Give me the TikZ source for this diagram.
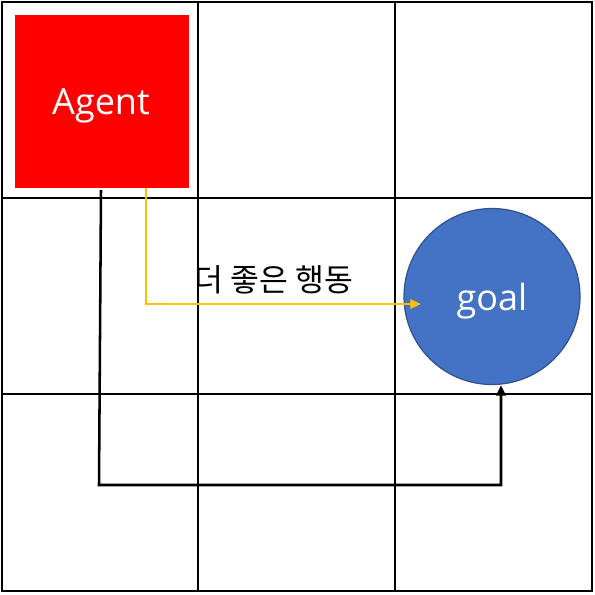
\documentclass[tikz,border=0pt]{standalone}
\usepackage{fontspec}
\setmainfont{Open Sans}
\newfontfamily\kofont{Noto Sans CJK KR}
\usetikzlibrary{arrows.meta,calc}
\definecolor{goalblue}{HTML}{4472C4}
\definecolor{goalline}{HTML}{2F528F}
\definecolor{ygold}{HTML}{FFC000}
\begin{document}
\begin{tikzpicture}[x=0.75pt,y=-0.75pt,
  gridline/.style={line width=1.1pt,draw=black},
  agentbox/.style={fill=red,draw=none,minimum width=174*0.75pt,minimum height=173*0.75pt,inner sep=0pt},
  goalnode/.style={circle,fill=goalblue,draw=goalline,line width=0.9pt,minimum size=176*0.75pt,inner sep=0pt},
  wlbl/.style={text=white,font=\fontsize{27}{30}\selectfont,inner sep=0pt},
  blackarrow/.style={line width=1.9pt,-{Triangle[length=8pt,width=7pt]}},
  goldarrow/.style={draw=ygold,line width=1.7pt,-{Triangle[length=8pt,width=7pt]}},
  lbl/.style={font=\kofont\fontsize{23.5}{26}\selectfont,inner sep=0pt}
]
\useasboundingbox (0,0) rectangle (595,594);
% grid
\draw[gridline] (2,2) rectangle (592,591);
\draw[gridline] (198,2) -- (198,591);
\draw[gridline] (395,2) -- (395,591);
\draw[gridline] (2,198) -- (592,198);
\draw[gridline] (2,394) -- (592,394);
% nodes
\node[agentbox] (agent) at (102,101.5) {};
\node[wlbl] (agenttxt) at (101,106) {Agent};
\node[goalnode] (goal) at (492,296.5) {};
\node[wlbl] (goaltxt) at (492,301) {goal};
% connectors
\coordinate (b0) at (101,190);
\coordinate (b1) at (99,485);
\coordinate (b2) at (501,485);
\coordinate (b3) at (501,385);
\draw[blackarrow] (b0) -- (b1) -- (b2) -- (b3);
\coordinate (y0) at (146,188);
\coordinate (y1) at (146,304);
\coordinate (y2) at (421,304);
\draw[goldarrow] (y0) -- (y1) -- (y2);
\node[lbl] (lab) at (274,280) {더 좋은 행동};
\end{tikzpicture}
\end{document}
